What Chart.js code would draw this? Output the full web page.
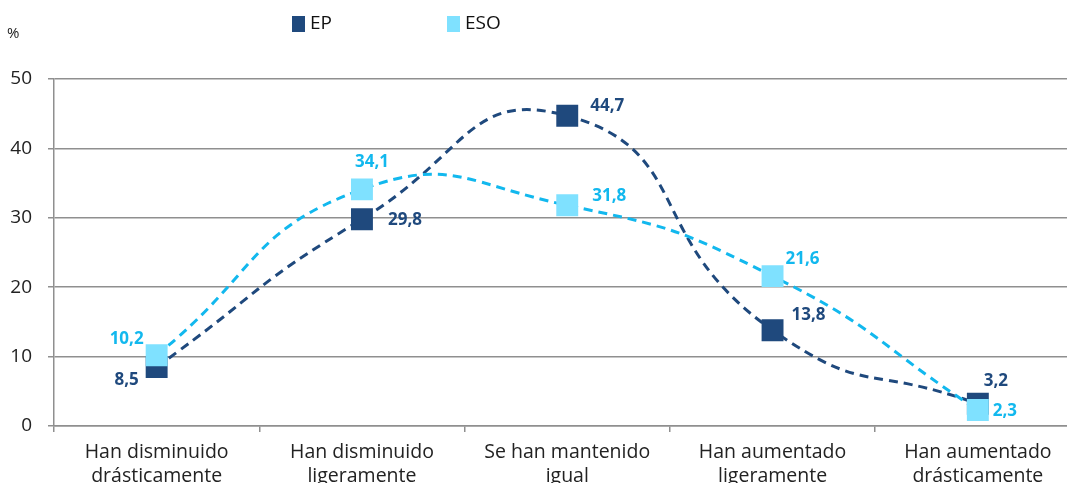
<!DOCTYPE html>
<html>
<head>
<meta charset="utf-8">
<script src="https://cdn.jsdelivr.net/npm/chart.js@4.4.1/dist/chart.umd.min.js"></script>
<style>
  html, body { margin: 0; padding: 0; background: #fff; overflow: hidden; }
  canvas { display: block; }
</style>
</head>
<body>
<canvas id="chart" width="1096" height="483"></canvas>
<script>
// Chart data
const categories = [
    ['Han disminuido', 'drásticamente'],
    ['Han disminuido', 'ligeramente'],
    ['Se han mantenido', 'igual'],
    ['Han aumentado', 'ligeramente'],
    ['Han aumentado', 'drásticamente']
];
const seriesNames = ['EP', 'ESO'];
const epValues = [8.5, 29.8, 44.7, 13.8, 3.2];
const esoValues = [10.2, 34.1, 31.8, 21.6, 2.3];
const yTicks = [0, 10, 20, 30, 40, 50];

// Label offsets from each marker (px)
const epLabelOffsets = [[-30, 13], [43, 1], [40, -10], [36, -15], [18, -23]];
const esoLabelOffsets = [[-30, -16], [10, -27], [42, -9], [30, -17], [27, 1]];

const EP_COLOR = '#1F497D';
const ESO_LINE = '#12B8EE';
const ESO_MARK = '#7FE1FF';
const FONT = "'Open Sans', 'DejaVu Sans', sans-serif";

function fmt(v) {
    return v.toFixed(1).replace('.', ',');
}

// Data labels, legend and unit label
const extrasPlugin = {
    id: 'extras',
    afterDatasetsDraw(chart) {
        const ctx = chart.ctx;
        ctx.save();
        ctx.font = 'bold 17px ' + FONT;
        ctx.textAlign = 'center';
        ctx.textBaseline = 'middle';
        chart.data.datasets.forEach((ds, di) => {
            const meta = chart.getDatasetMeta(di);
            meta.data.forEach((pt, i) => {
                const off = ds.labelOffsets[i];
                ctx.fillStyle = ds.labelColor;
                ctx.fillText(fmt(ds.data[i]), pt.x + off[0], pt.y + off[1]);
            });
        });
        ctx.restore();
    },
    afterDraw(chart) {
        const ctx = chart.ctx;
        ctx.save();
        // unit
        ctx.font = '15px ' + FONT;
        ctx.fillStyle = '#222';
        ctx.textBaseline = 'middle';
        ctx.fillText('%', 7, 34);
        // legend
        const items = [
            { x: 292, label: seriesNames[0], color: EP_COLOR },
            { x: 447, label: seriesNames[1], color: ESO_MARK }
        ];
        ctx.font = '19px ' + FONT;
        items.forEach(it => {
            ctx.fillStyle = it.color;
            ctx.fillRect(it.x, 16, 13, 16);
            ctx.fillStyle = '#111';
            ctx.fillText(it.label, it.x + 18, 24);
        });
        ctx.restore();
    }
};

const ctx = document.getElementById('chart').getContext('2d');
new Chart(ctx, {
    type: 'line',
    data: {
        labels: categories,
        datasets: [
            {
                label: seriesNames[0],
                data: epValues,
                order: 1,
                borderColor: EP_COLOR,
                backgroundColor: EP_COLOR,
                borderWidth: 3,
                borderDash: [9, 6],
                tension: 0.55,
                pointStyle: 'rect',
                pointRadius: 15.5,
                pointBorderWidth: 0,
                pointBackgroundColor: EP_COLOR,
                labelColor: EP_COLOR,
                labelOffsets: epLabelOffsets
            },
            {
                label: seriesNames[1],
                data: esoValues,
                order: 0,
                borderColor: ESO_LINE,
                backgroundColor: ESO_MARK,
                borderWidth: 3,
                borderDash: [9, 6],
                tension: 0.5,
                pointStyle: 'rect',
                pointRadius: 15.5,
                pointBorderWidth: 0,
                pointBackgroundColor: ESO_MARK,
                labelColor: ESO_LINE,
                labelOffsets: esoLabelOffsets
            }
        ]
    },
    options: {
        responsive: false,
        animation: false,
        events: [],
        layout: { padding: { top: 79, left: 0, right: 0, bottom: 0 } },
        elements: { line: { capBezierPoints: false } },
        plugins: {
            legend: { display: false },
            tooltip: { enabled: false }
        },
        scales: {
            x: {
                offset: true,
                grid: {
                    offset: true,
                    drawOnChartArea: false,
                    drawTicks: true,
                    tickLength: 6,
                    color: '#8f8f8f',
                    lineWidth: 1.5
                },
                border: { color: '#8f8f8f', width: 1.5 },
                ticks: {
                    color: '#222',
                    font: { family: FONT, size: 19.5 },
                    padding: 9,
                    maxRotation: 0,
                    autoSkip: false
                },
                afterFit(scale) {
                    scale.height = 57;
                    scale.paddingLeft = 0;
                    scale.paddingRight = 0;
                }
            },
            y: {
                min: yTicks[0],
                max: yTicks[yTicks.length - 1],
                afterBuildTicks(scale) {
                    scale.ticks = yTicks.map(v => ({ value: v }));
                },
                grid: {
                    color: '#8f8f8f',
                    lineWidth: 1.5,
                    tickLength: 6
                },
                border: { color: '#8f8f8f', width: 1.5 },
                ticks: {
                    color: '#222',
                    font: { family: FONT, size: 19 },
                    padding: 16
                },
                afterFit(scale) {
                    scale.width = 54;
                    scale.paddingTop = 0;
                    scale.paddingBottom = 0;
                }
            }
        }
    },
    plugins: [extrasPlugin]
});
</script>
</body>
</html>
